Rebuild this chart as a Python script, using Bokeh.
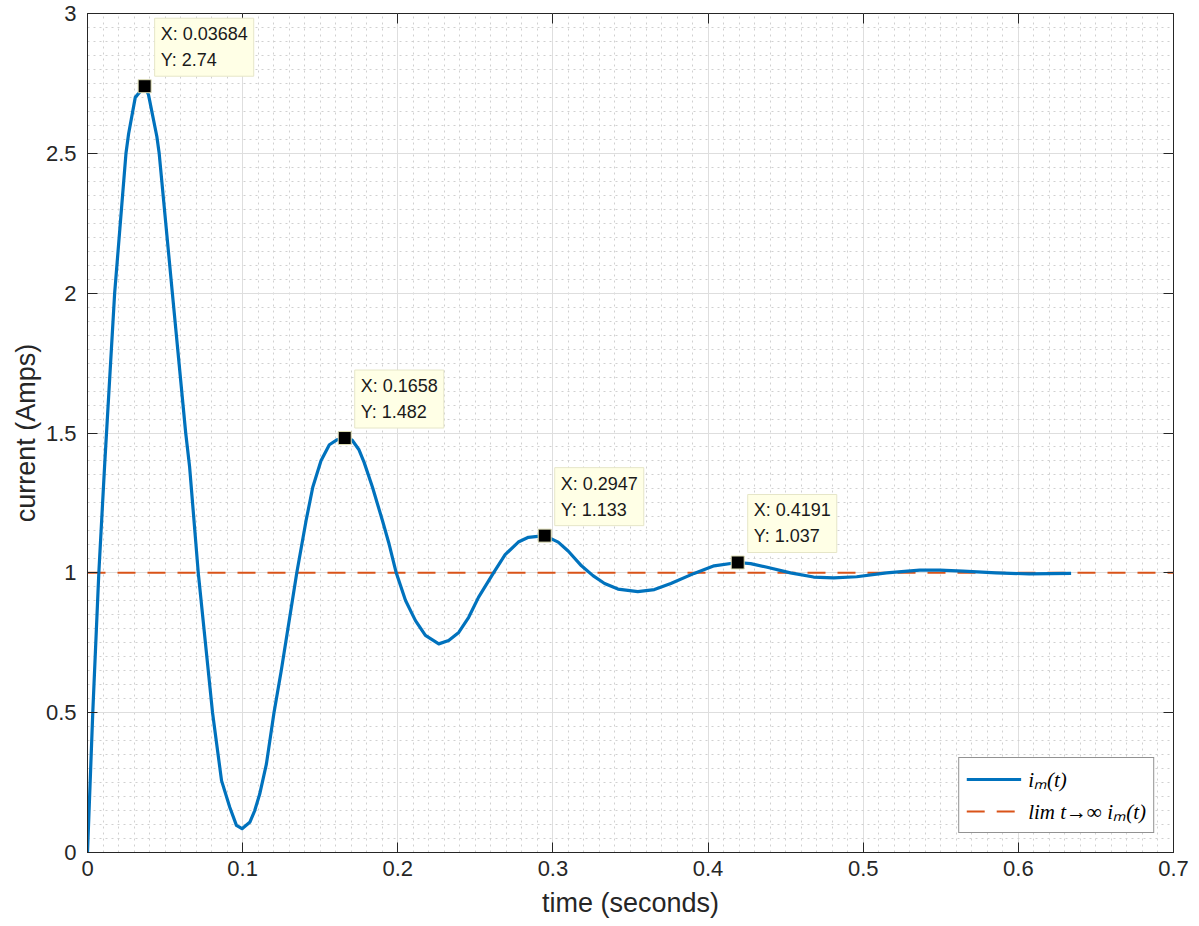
import numpy as np
from bokeh.plotting import figure
from bokeh.models import (Range1d, FixedTicker, LinearAxis, NumeralTickFormatter,
                          Legend, LegendItem, Label)
from bokeh.embed import file_html
from bokeh.resources import INLINE

# ---- data ----
t_values = [0.0, 0.0034, 0.0073, 0.0110, 0.0175, 0.0248, 0.0265, 0.0308, 0.03684,
            0.0393, 0.0447, 0.0462, 0.0547, 0.0633, 0.0658, 0.0714, 0.0806, 0.0864,
            0.0917, 0.0960, 0.0996, 0.1046, 0.1078, 0.1110, 0.1153, 0.1202, 0.1249,
            0.1349, 0.1409, 0.1452, 0.1505, 0.1559, 0.1610, 0.1658, 0.1705, 0.1750,
            0.1783, 0.1837, 0.1901, 0.1944, 0.1990, 0.2050, 0.2114, 0.2178, 0.2264,
            0.2328, 0.2393, 0.2457, 0.2521, 0.2617, 0.2692, 0.2777, 0.2842, 0.2947,
            0.3034, 0.3098, 0.3184, 0.3258, 0.3333, 0.3419, 0.3547, 0.3654, 0.3760,
            0.3910, 0.4039, 0.4191, 0.4274, 0.4381, 0.4531, 0.4680, 0.4809, 0.4958,
            0.5150, 0.5364, 0.5493, 0.5643, 0.5856, 0.6070, 0.6340]
i_values = [0.0, 0.50, 1.00, 1.38, 2.00, 2.50, 2.57, 2.70, 2.74,
            2.71, 2.56, 2.50, 2.00, 1.50, 1.38, 1.00, 0.50, 0.257,
            0.162, 0.097, 0.085, 0.108, 0.150, 0.209, 0.316, 0.500, 0.651,
            1.000, 1.187, 1.306, 1.401, 1.458, 1.476, 1.482, 1.475, 1.440,
            1.395, 1.306, 1.187, 1.103, 1.000, 0.901, 0.829, 0.776, 0.746,
            0.758, 0.787, 0.841, 0.913, 1.000, 1.065, 1.110, 1.127, 1.133,
            1.110, 1.078, 1.025, 0.990, 0.962, 0.942, 0.933, 0.940, 0.962,
            0.998, 1.025, 1.037, 1.033, 1.020, 1.000, 0.985, 0.982, 0.986,
            1.000, 1.010, 1.010, 1.006, 1.000, 0.996, 0.998]
limit_t = [0.0, 0.7]
limit_i = [1.0, 1.0]

tip_x = [0.03684, 0.1658, 0.2947, 0.4191]
tip_y = [2.74, 1.482, 1.133, 1.037]
tip_x_text = ["0.03684", "0.1658", "0.2947", "0.4191"]
tip_y_text = ["2.74", "1.482", "1.133", "1.037"]

x_ticks = [0, 0.1, 0.2, 0.3, 0.4, 0.5, 0.6, 0.7]
y_ticks = [0, 0.5, 1, 1.5, 2, 2.5, 3]
x_label = "time (seconds)"
y_label = "current (Amps)"
legend_labels = ["iₘ(t)", "lim t→∞ iₘ(t)"]

# ---- styling ----
AX = "#262626"
FONT = "Liberation Sans"
BLUE = "#0072BD"
ORANGE = "#D95319"

p = figure(width=1190, height=920, x_range=Range1d(0, 0.7), y_range=Range1d(0, 3),
           output_backend="svg", toolbar_location=None,
           min_border_left=87, min_border_right=17, min_border_top=13, min_border_bottom=68)
p.background_fill_color = "white"
p.border_fill_color = "white"
p.outline_line_color = AX
p.outline_line_width = 1

x_minor = [round(k * 0.01, 2) for k in range(0, 71)]
y_minor = [round(k * 0.05, 2) for k in range(0, 61)]
xt = FixedTicker(ticks=x_ticks, minor_ticks=x_minor)
yt = FixedTicker(ticks=y_ticks, minor_ticks=y_minor)

p.xaxis.ticker = xt
p.yaxis.ticker = yt
p.xaxis.formatter = NumeralTickFormatter(format="0.[0]")
p.yaxis.formatter = NumeralTickFormatter(format="0.[0]")

for ax in (p.xaxis[0], p.yaxis[0]):
    ax.axis_line_color = AX
    ax.major_tick_in = 10
    ax.major_tick_out = 0
    ax.minor_tick_in = 0
    ax.minor_tick_out = 0
    ax.major_tick_line_color = AX
    ax.major_label_text_font = FONT
    ax.major_label_text_font_size = "22px"
    ax.major_label_text_color = AX
    ax.axis_label_text_font = FONT
    ax.axis_label_text_font_size = "27px"
    ax.axis_label_text_font_style = "normal"
    ax.axis_label_text_color = AX
p.xaxis.axis_label = x_label
p.yaxis.axis_label = y_label
p.xaxis.major_label_standoff = 8
p.xaxis.axis_label_standoff = 9
p.yaxis.major_label_standoff = 11
p.yaxis.axis_label_standoff = 2

# extra box axes (ticks only)
for loc, tk in (("right", yt), ("above", xt)):
    a = LinearAxis(ticker=tk)
    a.axis_line_color = None
    a.major_tick_in = 10
    a.major_tick_out = 0
    a.minor_tick_in = 0
    a.minor_tick_out = 0
    a.major_tick_line_color = AX
    a.major_label_text_font_size = "0px"
    a.major_label_text_color = None
    a.major_label_standoff = 0
    p.add_layout(a, loc)

for g in (p.xgrid[0], p.ygrid[0]):
    g.grid_line_color = "#dedede"
    g.grid_line_width = 1
    g.minor_grid_line_color = "#d0d0d0"
    g.minor_grid_line_dash = "2 4"
    g.minor_grid_line_width = 1

r_lim = p.line(limit_t, limit_i, line_color=ORANGE, line_width=2, line_dash="18 12")
r_cur = p.line(t_values, i_values, line_color=BLUE, line_width=3.2, line_join="round")

p.scatter(tip_x, tip_y, marker="square", size=13, fill_color="black",
          line_color="#e0e0b8", line_width=1)

for tx, ty, sx, sy in zip(tip_x, tip_y, tip_x_text, tip_y_text):
    lab = Label(x=tx, y=ty, x_offset=10, y_offset=10, text=f"X: {sx}\nY: {sy}",
                text_font=FONT, text_font_size="18px", text_color="#1a1a1a",
                text_align="left", text_baseline="bottom", text_line_height=1.3,
                background_fill_color="#ffffe6", background_fill_alpha=1.0,
                border_line_color="#e6e6c8", border_line_width=1, padding=6)
    p.add_layout(lab)

legend = Legend(items=[LegendItem(label=legend_labels[0], renderers=[r_cur]),
                       LegendItem(label=legend_labels[1], renderers=[r_lim])],
                location="bottom_right", margin=19, padding=7, spacing=4,
                glyph_width=55, glyph_height=20, label_standoff=7, label_height=21,
                label_text_font="Liberation Serif", label_text_font_style="italic",
                label_text_font_size="21px", label_text_color="black",
                border_line_color=AX, border_line_width=1,
                background_fill_color="white", background_fill_alpha=1.0)
p.add_layout(legend)

open("out.html", "w").write(file_html(p, INLINE))
